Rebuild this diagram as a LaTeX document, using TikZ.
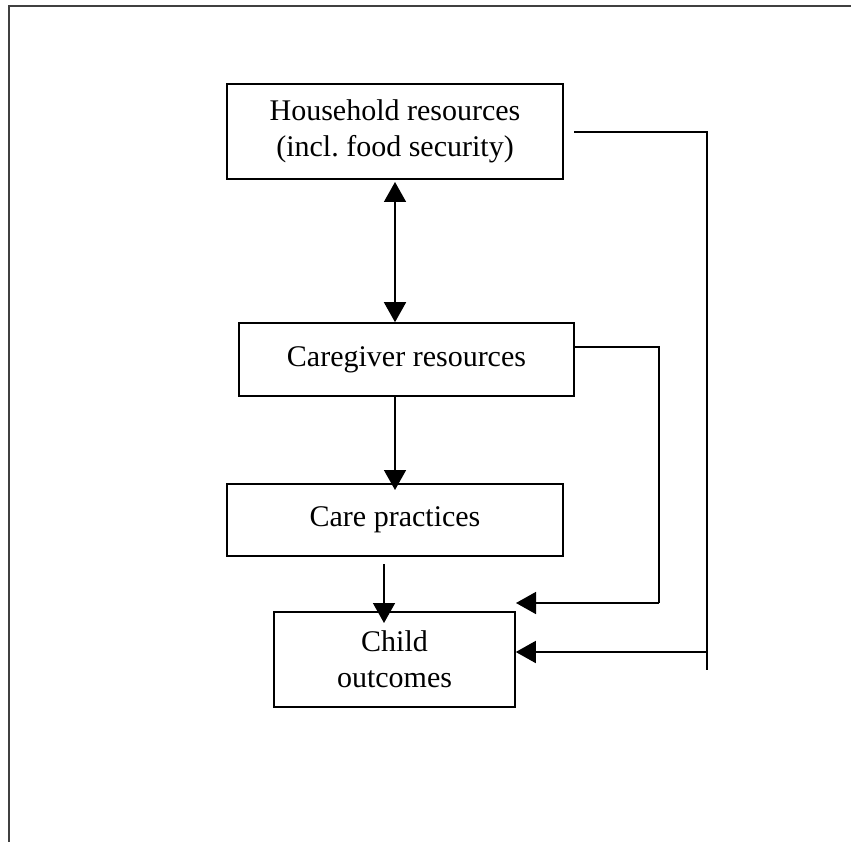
\documentclass[tikz,border=0pt]{standalone}
\usepackage{fontspec}
\setmainfont{Liberation Serif}
\usetikzlibrary{arrows.meta}
\begin{document}
\frenchspacing
\begin{tikzpicture}[x=1pt,y=-1pt,
  box/.style={draw, line width=1.6pt, inner sep=0pt, align=center,
    font=\fontsize{30}{36}\selectfont},
  link/.style={line width=1.6pt},
  arr/.style={line width=1.6pt, -{Triangle[length=20pt,width=22pt]}},
  darr/.style={line width=1.6pt, {Triangle[length=20pt,width=22pt]}-{Triangle[length=20pt,width=22pt]}}]
\useasboundingbox (0,0) rectangle (851,842);
% page frame (top and left edges only)
\draw[line width=2pt, black!75] (9,842) -- (9,6) -- (851,6);

% boxes
\node[box, minimum width=336pt, minimum height=95pt] (hh) at (395,131.5)
  {Household resources\\(incl. food security)};
\node[box, minimum width=335pt, minimum height=73pt] (cg) at (406.5,359.5)
  {Caregiver resources};
\node[box, minimum width=336pt, minimum height=72pt] (cp) at (395,520)
  {Care practices};
\node[box, minimum width=241pt, minimum height=95pt] (co) at (394.5,659.5)
  {Child\\outcomes};

% vertical links
\coordinate (hhtip) at (395,182);
\draw[darr] (hhtip) -- (hhtip |- cg.north);
\coordinate (cgdown) at (395,396);
\coordinate (cpin) at (395,490);
\draw[arr] (cgdown) -- (cpin);
\coordinate (cpout) at (384,564);
\coordinate (coin) at (384,623);
\draw[arr] (cpout) -- (coin);

% side links
\coordinate (hhout) at (574,132);
\coordinate (hhend) at (707,670);
\draw[link] (hhout) -- (hhout -| hhend) -- (hhend);
\coordinate (hhbranch) at (707,652);
\draw[arr] (hhbranch) -- (hhbranch -| co.east);

\coordinate (cgout) at (574,347);
\coordinate (cgend) at (659,603);
\draw[link] (cgout) -- (cgout -| cgend) -- (cgend);
\coordinate (cgtip) at (516,603);
\draw[arr] (cgend) -- (cgtip);
\end{tikzpicture}
\end{document}
